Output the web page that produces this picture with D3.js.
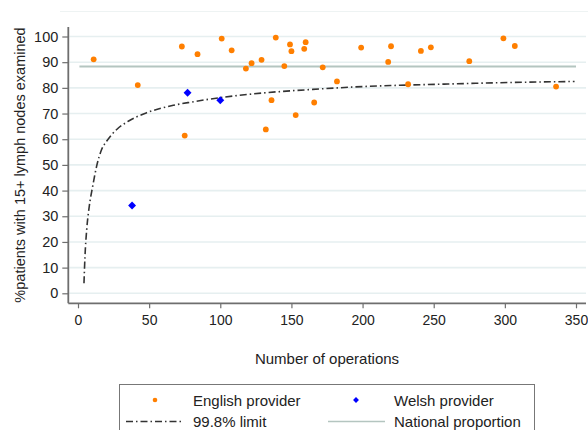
<!DOCTYPE html>
<html>
<head>
<meta charset="utf-8">
<script src="https://cdn.jsdelivr.net/npm/d3@7"></script>
<style>
  body { margin: 0; background: #fff; }
  text { font-family: "Liberation Sans", Arial, sans-serif; fill: #222; }
</style>
</head>
<body>
<div id="chart"></div>
<script>
// English providers: [number of operations, % with 15+ nodes examined]
var englishOps = [11, 42, 73, 75, 84, 101, 108, 118, 122, 129, 132, 136, 139, 145, 149, 150,
                  153, 159, 160, 166, 172, 182, 199, 218, 220, 232, 241, 248, 275, 299, 307, 336];
var englishPct = [91.1, 81.1, 96.1, 61.4, 93.1, 99.2, 94.6, 87.5, 89.6, 90.9, 63.8, 75.2, 99.6, 88.5, 96.9, 94.3,
                  69.4, 95.2, 97.8, 74.3, 88.0, 82.5, 95.7, 90.1, 96.2, 81.4, 94.4, 95.8, 90.4, 99.3, 96.3, 80.5];

// Welsh providers
var welshOps = [38, 77, 100];
var welshPct = [34.2, 78.1, 75.2];

// 99.8% lower limit
var limitOps = [4.2, 4.9, 6.1, 7.9, 10.3, 13.1, 16.6, 20.1, 27.2, 35.3, 48.2, 67, 80, 100, 132, 165, 200, 226, 260, 296, 349];
var limitPct = [3.9, 14.3, 24.7, 33.8, 41.6, 49.5, 56, 59.2, 63.8, 67, 70.3, 73.2, 74.5, 76.2, 78.1, 79.4, 80.5, 81, 81.5, 82, 82.5];

// national proportion
var nationalOps = [1, 350];
var nationalPct = 88.3;

var xTicks = [0, 50, 100, 150, 200, 250, 300, 350];
var yTicks = [0, 10, 20, 30, 40, 50, 60, 70, 80, 90, 100];

var width = 588, height = 430;

var svg = d3.select("#chart").append("svg")
  .attr("width", width)
  .attr("height", height);

var x = d3.scaleLinear().domain([0, 350]).range([78, 576]);
var y = d3.scaleLinear().domain([0, 100]).range([293.3, 36.5]);

var axisX = 68.3, axisY = 303.3;
var gridColor = "#e6eff0", axisColor = "#6e6e6e";

// faint plot region top edge
svg.append("line")
  .attr("x1", 60).attr("x2", width)
  .attr("y1", 11.5).attr("y2", 11.5)
  .attr("stroke", "#eef3f3").attr("stroke-width", 1);

// grid lines
svg.append("g").selectAll("line")
  .data(yTicks)
  .enter().append("line")
  .attr("x1", axisX + 1).attr("x2", 586)
  .attr("y1", function(d) { return y(d); })
  .attr("y2", function(d) { return y(d); })
  .attr("stroke", gridColor)
  .attr("stroke-width", 1.6);

// y axis
var gy = svg.append("g")
  .attr("transform", "translate(" + axisX + ",0)")
  .call(d3.axisLeft(y).tickValues(yTicks).tickSize(6).tickPadding(4));
gy.select(".domain").remove();
gy.selectAll(".tick line").attr("stroke", axisColor).attr("stroke-width", 1.2);
gy.selectAll(".tick text").style("font-size", "14.5px").attr("fill", "#222");

// x axis
var gx = svg.append("g")
  .attr("transform", "translate(0," + axisY + ")")
  .call(d3.axisBottom(x).tickValues(xTicks).tickSize(5).tickPadding(7));
gx.select(".domain").remove();
gx.selectAll(".tick line").attr("stroke", axisColor).attr("stroke-width", 1.2);
gx.selectAll(".tick text").style("font-size", "14px").attr("fill", "#222");

// axis lines
svg.append("line")
  .attr("x1", axisX).attr("x2", axisX)
  .attr("y1", 27).attr("y2", axisY)
  .attr("stroke", axisColor).attr("stroke-width", 1.8);
svg.append("line")
  .attr("x1", axisX).attr("x2", 586)
  .attr("y1", axisY).attr("y2", axisY)
  .attr("stroke", axisColor).attr("stroke-width", 1.8);

// axis titles
svg.append("text")
  .attr("x", 327).attr("y", 364)
  .attr("text-anchor", "middle")
  .style("font-size", "15px")
  .text("Number of operations");

svg.append("text")
  .attr("transform", "translate(25,165) rotate(-90)")
  .attr("text-anchor", "middle")
  .style("font-size", "14.5px")
  .text("%patients with 15+ lymph nodes examined");

// national proportion
svg.append("line")
  .attr("x1", x(nationalOps[0])).attr("x2", x(nationalOps[1]))
  .attr("y1", y(nationalPct)).attr("y2", y(nationalPct))
  .attr("stroke", "#b4c5c0").attr("stroke-width", 2);

// 99.8% limit
var limitLine = d3.line()
  .x(function(d) { return x(d[0]); })
  .y(function(d) { return y(d[1]); })
  .curve(d3.curveMonotoneX);

svg.append("path")
  .datum(limitOps.map(function(d, i) { return [d, limitPct[i]]; }))
  .attr("d", limitLine)
  .attr("fill", "none")
  .attr("stroke", "#333")
  .attr("stroke-width", 1.6)
  .attr("stroke-dasharray", "7,3,1.5,3");

// English points
svg.append("g").selectAll("circle")
  .data(englishOps)
  .enter().append("circle")
  .attr("cx", function(d) { return x(d); })
  .attr("cy", function(d, i) { return y(englishPct[i]); })
  .attr("r", 2.9)
  .attr("fill", "#ff7f00");

// Welsh points
var diamond = d3.symbol().type(d3.symbolDiamond2).size(40);
svg.append("g").selectAll("path")
  .data(welshOps)
  .enter().append("path")
  .attr("d", diamond)
  .attr("transform", function(d, i) { return "translate(" + x(d) + "," + y(welshPct[i]) + ")"; })
  .attr("fill", "#0000ff");

// legend
var legend = svg.append("g");
legend.append("rect")
  .attr("x", 119.5).attr("y", 384.5)
  .attr("width", 415).attr("height", 60)
  .attr("fill", "#fff")
  .attr("stroke", "#777").attr("stroke-width", 1);

legend.append("circle")
  .attr("cx", 155).attr("cy", 400).attr("r", 2.3)
  .attr("fill", "#ff7f00");
legend.append("path")
  .attr("d", d3.symbol().type(d3.symbolDiamond2).size(22))
  .attr("transform", "translate(356,400)")
  .attr("fill", "#0000ff");
legend.append("line")
  .attr("x1", 126).attr("x2", 182)
  .attr("y1", 421.5).attr("y2", 421.5)
  .attr("stroke", "#333").attr("stroke-width", 1.6)
  .attr("stroke-dasharray", "7,3,1.5,3");
legend.append("line")
  .attr("x1", 328).attr("x2", 385)
  .attr("y1", 421.5).attr("y2", 421.5)
  .attr("stroke", "#b4c5c0").attr("stroke-width", 1.5);

var legendLabels = ["English provider", "Welsh provider", "99.8% limit", "National proportion"];
var legendX = [193, 394, 193, 394];
var legendY = [405.5, 405.5, 427, 427];
legend.selectAll("text.lbl")
  .data(legendLabels)
  .enter().append("text")
  .attr("class", "lbl")
  .attr("x", function(d, i) { return legendX[i]; })
  .attr("y", function(d, i) { return legendY[i]; })
  .style("font-size", "15px")
  .text(function(d) { return d; });
</script>
</body>
</html>
